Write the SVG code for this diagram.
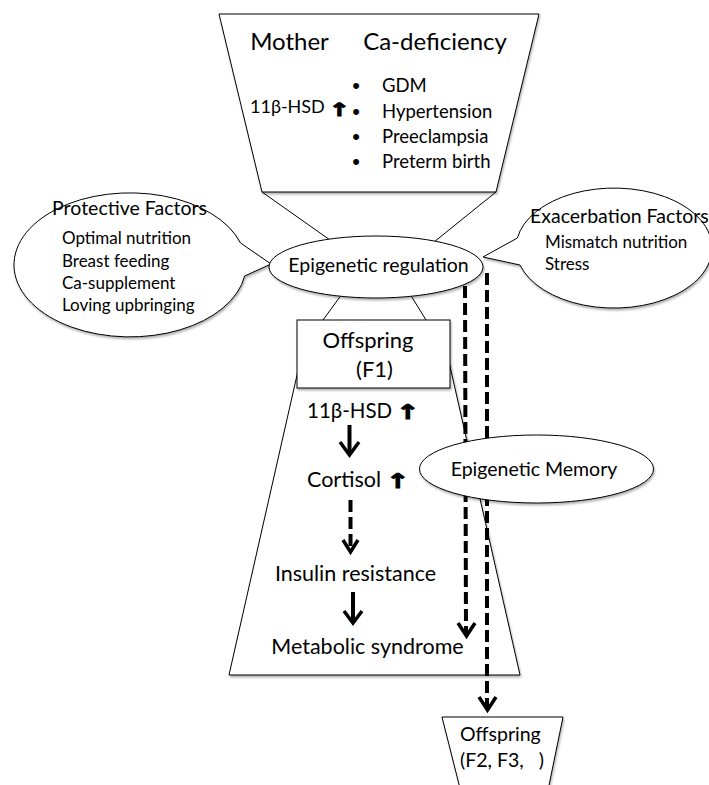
<svg xmlns="http://www.w3.org/2000/svg" width="709" height="785" viewBox="0 0 709 785">
<style>
  .shape { fill: #fff; stroke: #000; stroke-width: 1; filter: url(#sh); }
  .t { font-family: Lato, "Liberation Sans", sans-serif; fill: #000; }
  .bul { font-family: "Liberation Sans", sans-serif; font-size: 22px; fill: #000; }
  .arr { font-family: "DejaVu Sans", sans-serif; font-weight: bold; fill: #000; stroke: #000; stroke-width: 1; stroke-linejoin: miter; }
  .thin { stroke: #000; stroke-width: 1; fill: none; }
  .solid { stroke: #000; stroke-width: 4; fill: none; }
  .dash { stroke: #000; stroke-width: 4; fill: none; stroke-dasharray: 12 5; }
  .head { stroke: #000; stroke-width: 3.5; fill: none; stroke-linejoin: miter; }
</style>
<defs>
  <filter id="sh" x="-10%" y="-10%" width="120%" height="130%">
    <feDropShadow dx="1" dy="2" stdDeviation="1.2" flood-color="#000" flood-opacity="0.3"/>
  </filter>
</defs>
<rect width="709" height="785" fill="#fff"/>

<g id="mother">
  <polygon class="shape" points="219,14 539,14 496,192 262,192"/>
  <text class="t" x="289.5" y="50" font-size="24" text-anchor="middle">Mother</text>
  <text class="t" x="435" y="50" font-size="24" text-anchor="middle">Ca-deficiency</text>
  <text class="t" x="250" y="113" font-size="18">11β-HSD</text>
  <text class="arr" transform="translate(339,116) scale(1.4,1)" font-size="18" text-anchor="middle">↑</text>
  <g class="bul">
    <text x="356" y="93" text-anchor="middle">•</text>
    <text x="356" y="119" text-anchor="middle">•</text>
    <text x="356" y="144" text-anchor="middle">•</text>
    <text x="356" y="169" text-anchor="middle">•</text>
  </g>
  <g class="t" font-size="18.5">
    <text x="382" y="92">GDM</text>
    <text x="382" y="118">Hypertension</text>
    <text x="382" y="143">Preeclampsia</text>
    <text x="382" y="168">Preterm birth</text>
  </g>
</g>

<g id="offspring-f1-region">
  <polygon class="shape" points="300,362 449,362 520,675 229,675"/>
</g>

<g id="connectors">
  <line class="thin" x1="262" y1="192" x2="330" y2="240"/>
  <line class="thin" x1="496" y1="192" x2="434" y2="242"/>
  <line class="thin" x1="342" y1="294" x2="323" y2="320"/>
  <line class="thin" x1="410" y1="294" x2="426" y2="320"/>
  <line class="dash" x1="465" y1="286" x2="466" y2="634"/>
  <polyline class="head" points="458,623 466.5,636 475,623"/>
  <line class="dash" x1="487" y1="273" x2="487" y2="708"/>
  <polyline class="head" points="479,697 487.5,710 496,697"/>
  <line class="solid" x1="349.5" y1="425" x2="349.5" y2="454"/>
  <polyline class="head" points="340,442 349.5,455 359,442"/>
  <line class="dash" x1="350.5" y1="500" x2="350.5" y2="551"/>
  <polyline class="head" points="343,540 350.5,552 358,540"/>
  <line class="solid" x1="353" y1="592" x2="353" y2="622"/>
  <polyline class="head" points="344,611 353,623 362,611"/>
</g>

<g id="protective-factors">
  <path class="shape" d="M240.5,243 L271,264 L244.6,276 A116,72 0 1 1 240.5,243 Z"/>
  <text class="t" x="129.5" y="215" font-size="19.5" text-anchor="middle">Protective Factors</text>
  <g class="t" font-size="17">
    <text x="62" y="244">Optimal nutrition</text>
    <text x="62" y="267">Breast feeding</text>
    <text x="62" y="289">Ca-supplement</text>
    <text x="62" y="311">Loving upbringing</text>
  </g>
</g>

<g id="exacerbation-factors">
  <path class="shape" d="M517.4,238 L483,257 L520,265 A98,60 0 1 0 517.4,238 Z"/>
  <text class="t" x="530" y="223" font-size="19.5">Exacerbation Factors</text>
  <g class="t" font-size="17">
    <text x="545" y="248">Mismatch nutrition</text>
    <text x="545" y="270">Stress</text>
  </g>
</g>

<g id="epigenetic-regulation">
  <ellipse class="shape" cx="376" cy="267" rx="107" ry="31"/>
  <text class="t" x="378.5" y="272" font-size="19.5" text-anchor="middle">Epigenetic regulation</text>
</g>

<g id="offspring-f1">
  <rect class="shape" x="297" y="320" width="153" height="68"/>
  <text class="t" x="368" y="348" font-size="22" text-anchor="middle">Offspring</text>
  <text class="t" x="374.5" y="377" font-size="22" text-anchor="middle">(F1)</text>
</g>

<g id="f1-items">
  <text class="t" x="307" y="418" font-size="20.5">11β-HSD</text>
  <text class="arr" transform="translate(408,419) scale(1.4,1)" font-size="20" text-anchor="middle">↑</text>
  <text class="t" x="307" y="487" font-size="21.5">Cortisol</text>
  <text class="arr" transform="translate(398,488) scale(1.4,1)" font-size="20" text-anchor="middle">↑</text>
  <text class="t" x="355.5" y="581" font-size="21.5" text-anchor="middle">Insulin resistance</text>
  <text class="t" x="367.5" y="654" font-size="21.5" text-anchor="middle">Metabolic syndrome</text>
</g>

<g id="epigenetic-memory">
  <ellipse class="shape" cx="536.5" cy="469" rx="117" ry="34"/>
  <text class="t" x="534" y="476" font-size="19.5" text-anchor="middle">Epigenetic Memory</text>
</g>

<g id="offspring-f2">
  <polygon class="shape" points="442,717 563,717 546,800 463,800"/>
  <text class="t" x="460" y="741" font-size="19.5">Offspring</text>
  <text class="t" x="460" y="767" font-size="19.5" xml:space="preserve">(F2, F3,   )</text>
</g>
</svg>
